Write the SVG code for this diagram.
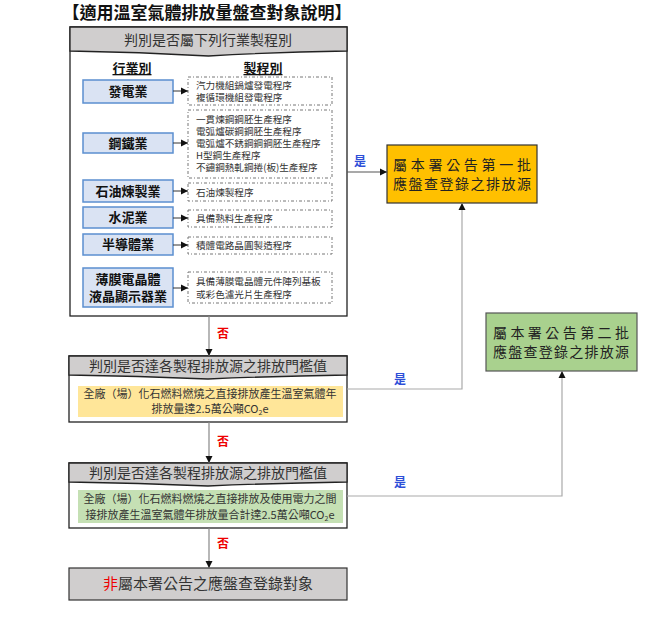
<svg xmlns="http://www.w3.org/2000/svg" width="656" height="619" viewBox="0 0 656 619">
<defs>
<marker id="arr" markerWidth="8" markerHeight="8" refX="7" refY="4" orient="auto" markerUnits="userSpaceOnUse">
<path d="M0,0.5 L7,4 L0,7.5 Z" fill="#111"/>
</marker>
<style>
text{font-family:"Noto Sans CJK TC","Noto Sans CJK SC",sans-serif;}
.frame{fill:#fff;stroke:#222;stroke-width:1.3;}
.hdr{fill:#d0cece;stroke:#222;stroke-width:1.3;}
.hdrt{font-size:14px;fill:#333;text-anchor:middle;}
.ind{fill:#dae3f3;stroke:#5b8fd0;stroke-width:1.5;}
.indt{font-size:13px;font-weight:bold;fill:#111;text-anchor:middle;}
.proc{fill:#fff;stroke:#777;stroke-width:1;stroke-dasharray:3,2,1,2;}
.proct{font-size:9.6px;fill:#333;}
.conn{fill:none;stroke:#888;stroke-width:1.2;}
.sconn{fill:none;stroke:#333;stroke-width:1;}
.no{font-size:12px;font-weight:bold;fill:#e00;text-anchor:middle;}
.yes{font-size:12px;font-weight:bold;fill:#2d4fd8;text-anchor:middle;}
.innert{font-size:11px;fill:#333;text-anchor:middle;}
.bigt{font-size:14px;fill:#222;}
</style>
</defs>

<text x="207" y="19" font-size="17" font-weight="bold" fill="#111" text-anchor="middle">【適用溫室氣體排放量盤查對象說明】</text>

<g id="panel-industry">
<rect class="frame" x="70" y="27" width="277" height="289"/>
<path class="hdr" d="M70,27 H347 V51 Q278,52 208.5,56 Q139,52 70,51 Z"/>
<text class="hdrt" x="208" y="45" font-size="15">判別是否屬下列行業製程別</text>
<text x="132" y="73" font-size="13" font-weight="bold" fill="#111" text-anchor="middle" text-decoration="underline">行業別</text>
<text x="263" y="73" font-size="13" font-weight="bold" fill="#111" text-anchor="middle" text-decoration="underline">製程別</text>
</g>

<g id="ind-power">
<rect class="ind" x="83" y="80" width="90" height="23"/>
<text class="indt" x="128" y="96">發電業</text>
</g>
<g id="proc-power">
<rect class="proc" x="188" y="77" width="144" height="28"/>
<text class="proct" x="196" y="89">汽力機組鍋爐發電程序</text>
<text class="proct" x="196" y="101">複循環機組發電程序</text>
</g>

<g id="ind-steel">
<rect class="ind" x="83" y="133" width="90" height="20"/>
<text class="indt" x="128" y="148">鋼鐵業</text>
</g>
<g id="proc-steel">
<rect class="proc" x="188" y="110" width="144" height="68"/>
<text class="proct" x="196" y="123">一貫煉鋼鋼胚生產程序</text>
<text class="proct" x="196" y="135">電弧爐碳鋼鋼胚生產程序</text>
<text class="proct" x="196" y="147">電弧爐不銹鋼鋼鋼胚生產程序</text>
<text class="proct" x="196" y="159">H型鋼生產程序</text>
<text class="proct" x="196" y="171">不鏽鋼熱軋鋼捲(板)生產程序</text>
</g>

<g id="ind-petro">
<rect class="ind" x="83" y="180" width="90" height="22"/>
<text class="indt" x="128" y="196">石油煉製業</text>
</g>
<g id="proc-petro">
<rect class="proc" x="188" y="183" width="144" height="18"/>
<text class="proct" x="196" y="196">石油煉製程序</text>
</g>

<g id="ind-cement">
<rect class="ind" x="83" y="207" width="90" height="21"/>
<text class="indt" x="128" y="222">水泥業</text>
</g>
<g id="proc-cement">
<rect class="proc" x="188" y="210" width="144" height="17"/>
<text class="proct" x="196" y="222">具備熟料生產程序</text>
</g>

<g id="ind-semi">
<rect class="ind" x="83" y="234" width="90" height="21"/>
<text class="indt" x="128" y="249">半導體業</text>
</g>
<g id="proc-semi">
<rect class="proc" x="188" y="237" width="144" height="17"/>
<text class="proct" x="196" y="249">積體電路晶圓製造程序</text>
</g>

<g id="ind-tft">
<rect class="ind" x="83" y="268" width="90" height="39"/>
<text class="indt" x="128" y="284">薄膜電晶體</text>
<text class="indt" x="128" y="301">液晶顯示器業</text>
</g>
<g id="proc-tft">
<rect class="proc" x="188" y="272" width="144" height="31"/>
<text class="proct" x="196" y="285">具備薄膜電晶體元件陣列基板</text>
<text class="proct" x="196" y="298">或彩色濾光片生產程序</text>
</g>

<g id="check1">
<rect class="frame" x="69" y="356" width="278" height="66"/>
<path class="hdr" d="M69,356 H347 V375 Q278,376 208,379 Q138,376 69,375 Z"/>
<text class="hdrt" x="208" y="371" font-size="13">判別是否達各製程排放源之排放門檻值</text>
<rect x="78" y="386" width="265" height="31" fill="#ffe699"/>
<text class="innert" x="210" y="398">全廠（場）化石燃料燃燒之直接排放產生溫室氣體年</text>
<text class="innert" x="210" y="413">排放量達2.5萬公噸CO<tspan font-size="7" dy="2">2</tspan><tspan dy="-2">e</tspan></text>
</g>

<g id="check2">
<rect class="frame" x="69" y="463" width="278" height="65"/>
<path class="hdr" d="M69,463 H347 V482 Q278,483 208,486 Q138,483 69,482 Z"/>
<text class="hdrt" x="208" y="478" font-size="13">判別是否達各製程排放源之排放門檻值</text>
<rect x="78" y="490" width="265" height="33" fill="#c5e0b4"/>
<text class="innert" x="210" y="503">全廠（場）化石燃料燃燒之直接排放及使用電力之間</text>
<text class="innert" x="210" y="519">接排放產生溫室氣體年排放量合計達2.5萬公噸CO<tspan font-size="7" dy="2">2</tspan><tspan dy="-2">e</tspan></text>
</g>

<g id="batch1">
<rect x="387" y="145" width="150" height="58" fill="#ffc000" stroke="#333" stroke-width="1.2"/>
<text class="bigt" x="393" y="170" textLength="138" lengthAdjust="spacing">屬本署公告第一批</text>
<text class="bigt" x="393" y="189" textLength="138" lengthAdjust="spacing">應盤查登錄之排放源</text>
</g>

<g id="batch2">
<rect x="486" y="313" width="151" height="58" fill="#a9d18e" stroke="#555" stroke-width="1.2"/>
<text class="bigt" x="493" y="338" textLength="136" lengthAdjust="spacing">屬本署公告第二批</text>
<text class="bigt" x="493" y="357" textLength="136" lengthAdjust="spacing">應盤查登錄之排放源</text>
</g>

<g id="final">
<rect x="69" y="568" width="278" height="32" fill="#d0cece" stroke="#333" stroke-width="1.2"/>
<text x="208" y="589" font-size="15" fill="#333" text-anchor="middle"><tspan fill="#e00">非</tspan>屬本署公告之應盤查登錄對象</text>
</g>

<g id="connectors">
<line class="sconn" x1="173" y1="91" x2="188" y2="91" marker-end="url(#arr)"/>
<line class="sconn" x1="173" y1="143" x2="188" y2="143" marker-end="url(#arr)"/>
<line class="sconn" x1="173" y1="191" x2="188" y2="191" marker-end="url(#arr)"/>
<line class="sconn" x1="173" y1="218" x2="188" y2="218" marker-end="url(#arr)"/>
<line class="sconn" x1="173" y1="245" x2="188" y2="245" marker-end="url(#arr)"/>
<line class="sconn" x1="173" y1="288" x2="188" y2="288" marker-end="url(#arr)"/>

<line class="conn" x1="347" y1="172" x2="387" y2="172" marker-end="url(#arr)" style="stroke:#555"/>
<text class="yes" x="360" y="166">是</text>

<line class="conn" x1="209" y1="316" x2="209" y2="356" marker-end="url(#arr)"/>
<text class="no" x="223" y="338">否</text>

<polyline class="conn" points="347,389 462,389 462,203" marker-end="url(#arr)" style="stroke:#aaa"/>
<text class="yes" x="400" y="384">是</text>

<line class="conn" x1="209" y1="422" x2="209" y2="463" marker-end="url(#arr)"/>
<text class="no" x="223" y="446">否</text>

<polyline class="conn" points="347,496 562,496 562,371" marker-end="url(#arr)" style="stroke:#aaa"/>
<text class="yes" x="400" y="487">是</text>

<line class="conn" x1="209" y1="528" x2="209" y2="568" marker-end="url(#arr)"/>
<text class="no" x="223" y="548">否</text>
</g>
</svg>
